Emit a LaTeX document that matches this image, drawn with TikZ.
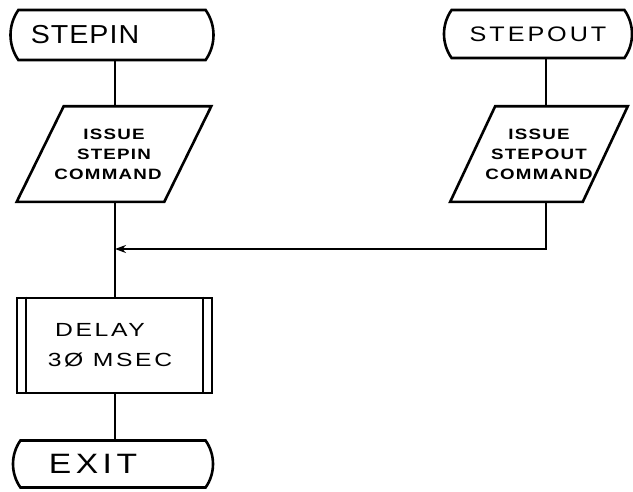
\documentclass[tikz,border=0pt]{standalone}
\usepackage{fontspec}
\setmainfont{Liberation Sans}
\usetikzlibrary{shapes.misc,arrows.meta}
\begin{document}
\begin{tikzpicture}[x=1pt,y=-1pt,line width=2.6pt,
  term/.style={draw, rounded rectangle, rounded rectangle arc length=70, inner sep=0pt},
  io/.style={rectangle, minimum height=93pt, inner sep=0pt, align=center,
    font=\fontsize{15}{20}\selectfont\bfseries\addfontfeature{FakeStretch=1.25,LetterSpace=8}},
  proc/.style={draw, rectangle, inner sep=0pt, align=center,
    font=\fontsize{19}{30}\selectfont\addfontfeature{FakeStretch=1.3,LetterSpace=14}},
  flow/.style={draw, line width=2.6pt},
  arr/.style={flow, -{Stealth[length=11pt,width=8pt]}}]
\useasboundingbox (0,0) rectangle (633,491);
\node[term, minimum width=203pt, minimum height=50pt,
  font=\fontsize{26}{26}\selectfont\addfontfeature{FakeStretch=1.1,LetterSpace=4}]
  (stepin) at (112,35) {STEPIN\hspace*{54pt}};
\node[term, minimum width=188pt, minimum height=48pt,
  font=\fontsize{21}{21}\selectfont\addfontfeature{FakeStretch=1.2,LetterSpace=14}]
  (stepout) at (538,34) {STEPOUT};
\node[io, minimum width=145pt] (p1) at (114,154) {ISSUE\\STEPIN\\COMMAND\hspace*{12pt}};
\node[io, minimum width=130pt] (p2) at (539,154) {ISSUE\\STEPOUT\\COMMAND};
\draw ([xshift=23.5pt]p1.north west) -- ([xshift=23.5pt]p1.north east)
  -- ([xshift=-23.5pt]p1.south east) -- ([xshift=-23.5pt]p1.south west) -- cycle;
\draw ([xshift=22.5pt]p2.north west) -- ([xshift=22.5pt]p2.north east)
  -- ([xshift=-22.5pt]p2.south east) -- ([xshift=-22.5pt]p2.south west) -- cycle;
\node[proc, minimum width=195pt, minimum height=95pt] (delay) at (114.5,345.5)
  {DELAY\hspace*{29pt}\\3Ø MSEC\hspace*{9pt}};
\node[term, minimum width=200pt, minimum height=47pt,
  font=\fontsize{28}{28}\selectfont\addfontfeature{FakeStretch=1.2,LetterSpace=16}]
  (exit) at (113,464) {EXIT\hspace*{40pt}};
\draw[line width=1.8pt] ([xshift=10pt]delay.north west) -- ([xshift=10pt]delay.south west);
\draw[line width=1.8pt] ([xshift=-10pt]delay.north east) -- ([xshift=-10pt]delay.south east);
\coordinate (j) at (115,249);
\coordinate (k) at (546,0);
\draw[flow] (stepin.south -| j) -- (p1.north -| j);
\draw[flow] (stepout.south -| k) -- (p2.north -| k);
\draw[flow] (p1.south -| j) -- (delay.north -| j);
\draw[arr] (p2.south -| k) |- (j);
\draw[flow] (delay.south -| j) -- (exit.north -| j);
\end{tikzpicture}
\end{document}
